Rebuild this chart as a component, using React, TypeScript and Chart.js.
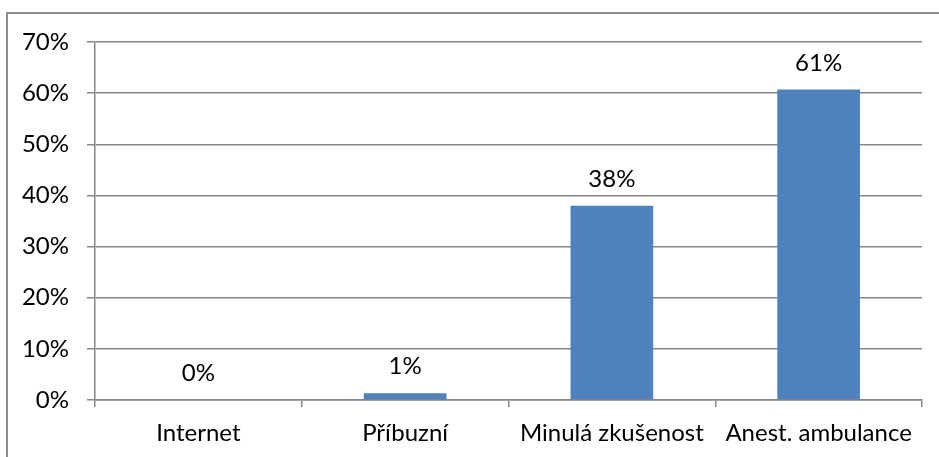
import React, { useEffect, useRef } from "react";
import { Chart, registerables } from "chart.js";

Chart.register(...registerables);

const categories = ["Internet", "Příbuzní", "Minulá zkušenost", "Anest. ambulance"];
const values = [0, 1.3, 38.0, 60.7];
const yMin = 0;
const yMax = 70;
const yStep = 10;

const FONT = "Lato, 'Open Sans', sans-serif";
const GRID = "#868686";

const valueLabels = {
  id: "valueLabels",
  afterDatasetsDraw(chart: any) {
    const ctx = chart.ctx;
    const meta = chart.getDatasetMeta(0);
    ctx.save();
    ctx.font = `24px ${FONT}`;
    ctx.fillStyle = "#000";
    ctx.textAlign = "center";
    ctx.textBaseline = "alphabetic";
    meta.data.forEach((bar: any, i: number) => {
      const v = chart.data.datasets[0].data[i] as number;
      ctx.fillText(Math.round(v) + "%", bar.x, bar.y - 19);
    });
    ctx.restore();
  },
};

export default function App() {
  const ref = useRef<HTMLCanvasElement | null>(null);
  useEffect(() => {
    if (!ref.current) return;
    const chart = new Chart(ref.current, {
      type: "bar",
      data: {
        labels: categories,
        datasets: [
          {
            data: values,
            backgroundColor: "#4F81BD",
            borderWidth: 0,
            barPercentage: 0.4,
            categoryPercentage: 1,
          },
        ],
      },
      options: {
        animation: false,
        responsive: false,
        devicePixelRatio: 1,
        layout: { padding: { left: 0, right: 17, top: 42, bottom: 0 } },
        plugins: { legend: { display: false }, tooltip: { enabled: false } },
        scales: {
          x: {
            offset: true,
            grid: {
              display: true,
              offset: true,
              drawOnChartArea: false,
              drawTicks: true,
              tickLength: 7,
              color: GRID,
              lineWidth: 1.5,
            },
            border: { display: true, color: GRID, width: 1.5 },
            ticks: {
              color: "#000",
              font: { family: FONT, size: 24 },
              padding: 12,
              maxRotation: 0,
              autoSkip: false,
            },
            afterFit: (s: any) => {
              s.height = 57;
            },
          },
          y: {
            min: yMin,
            max: yMax,
            grid: {
              color: GRID,
              lineWidth: 1.5,
              tickLength: 8,
              drawTicks: true,
            },
            border: { display: true, color: GRID, width: 1.5 },
            ticks: {
              stepSize: yStep,
              color: "#000",
              font: { family: FONT, size: 24 },
              padding: 18,
              callback: (v: any) => v + "%",
            },
            afterFit: (s: any) => {
              s.width = 95;
            },
          },
        },
      },
      plugins: [valueLabels],
    });
    return () => chart.destroy();
  }, []);
  return (
    <div
      style={{
        position: "fixed",
        left: 0,
        top: 0,
        width: 939,
        height: 457,
        background: "#fff",
        overflow: "hidden",
      }}
    >
      <div
        style={{
          position: "absolute",
          left: 6,
          top: 12,
          width: 960,
          height: 470,
          borderLeft: "2px solid #8c8c8c",
          borderTop: "2px solid #8c8c8c",
        }}
      />
      <canvas ref={ref} width={939} height={457} style={{ position: "absolute", left: 0, top: 0 }} />
    </div>
  );
}
